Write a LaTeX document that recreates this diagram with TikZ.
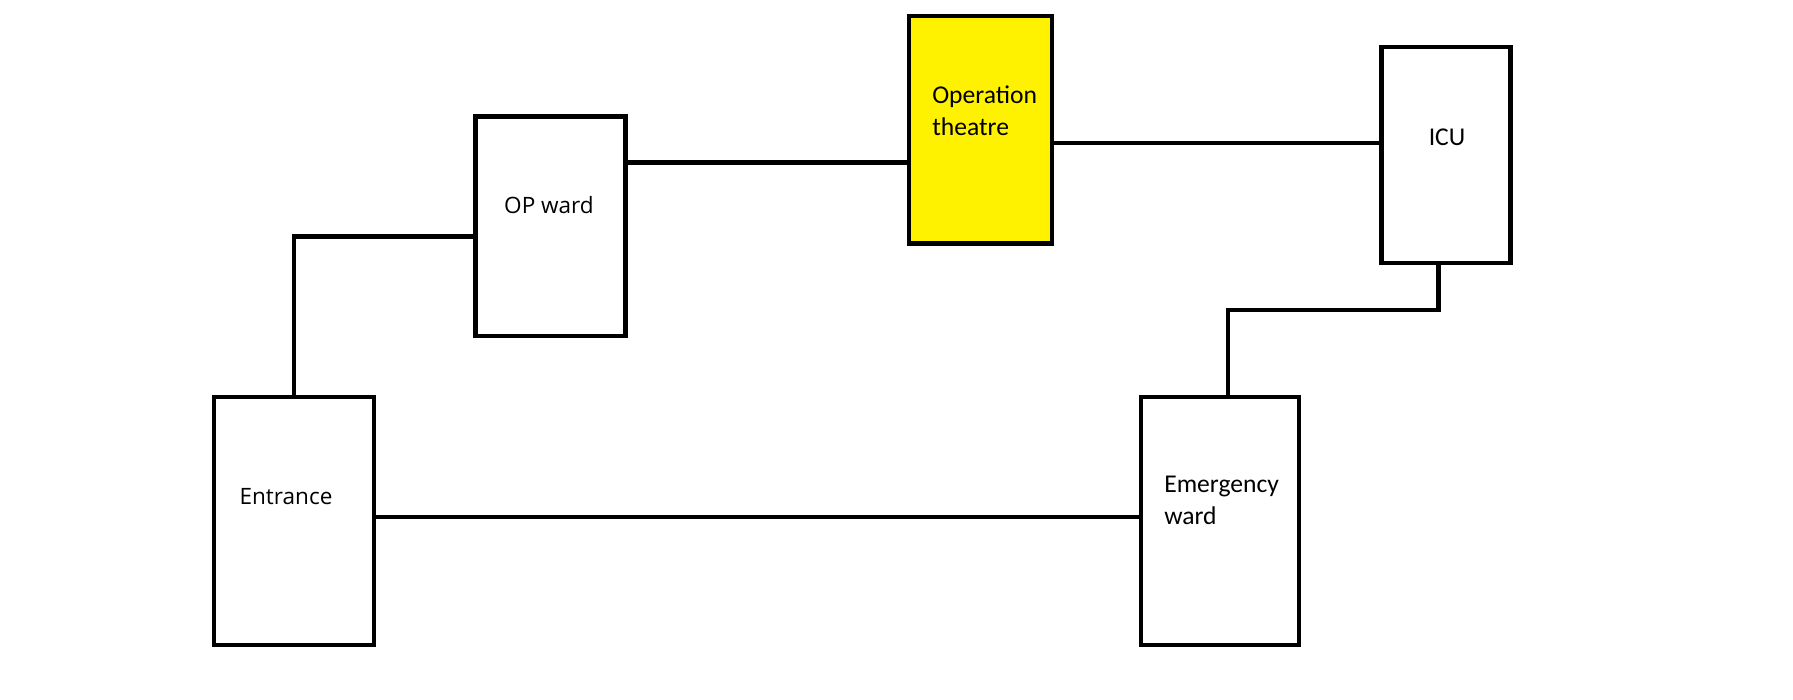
\documentclass[tikz,border=0pt]{standalone}
\usepackage{fontspec}
\usepackage{xcolor}
\usepackage{tikz}
\newfontfamily\opensans{Open Sans}
\newfontfamily\carlito{Carlito}
\definecolor{otyellow}{RGB}{255,242,0}

\begin{document}
\begin{tikzpicture}[x=0.75pt,y=-0.75pt,
  room/.style={draw,line width=3.4pt,rectangle,inner sep=0pt},
  wire/.style={line width=3.4pt},
  txta/.style={font=\opensans\fontsize{16.9}{20}\selectfont,inner sep=0pt},
  txtb/.style={font=\carlito\fontsize{19.2}{24}\selectfont,inner sep=0pt,align=left}]
\useasboundingbox (0,0) rectangle (1793,700);
\node[room,minimum width=120pt,minimum height=186pt] (entr) at (293.9,520.9) {};
\node[room,minimum width=112.5pt,minimum height=164.7pt] (opw) at (550.6,226.4) {};
\node[room,fill=otyellow,minimum width=107.2pt,minimum height=170.7pt] (ot) at (980.5,129.8) {};
\node[room,minimum width=96.9pt,minimum height=162pt] (icu) at (1446,155) {};
\node[room,minimum width=118.4pt,minimum height=186pt] (emw) at (1220,520.9) {};
\node[txta] (entr-t) at (286,497) {Entrance};
\node[txta] (opw-t) at (549,205) {OP ward};
\node[txtb,anchor=west] (ot-t) at (932,111) {Operation\\theatre};
\node[txtb] (icu-t) at (1447,137) {ICU};
\node[txtb,anchor=west] (emw-t) at (1164,500) {Emergency\\ward};
\coordinate (b1) at (293.9,236.7);
\coordinate (c2) at (600,162.4);
\coordinate (c3) at (1200,142.9);
\coordinate (b4) at (1438.5,309.9);
\coordinate (b5) at (1228,309.9);
\coordinate (c5) at (700,516.9);
\draw[wire] (entr.north) |- (b1 -| opw.west);
\draw[wire] (c2 -| opw.east) -- (c2 -| ot.west);
\draw[wire] (c3 -| ot.east) -- (c3 -| icu.west);
\draw[wire] (b4 |- icu.south) -- (b4) -- (b5) -- (b5 |- emw.north);
\draw[wire] (c5 -| entr.east) -- (c5 -| emw.west);
\end{tikzpicture}
\end{document}
